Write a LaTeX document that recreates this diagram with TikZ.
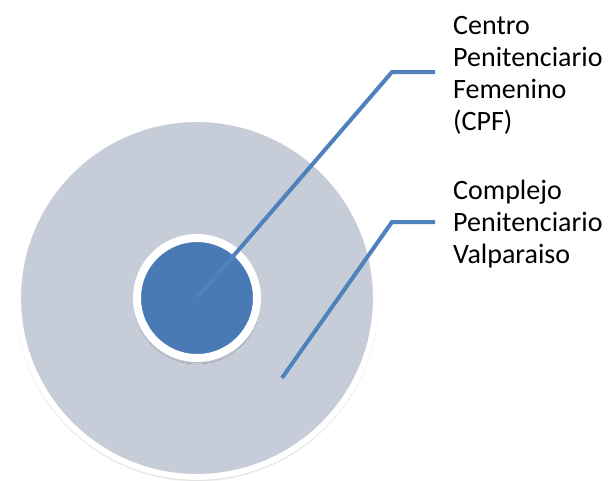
\documentclass[tikz,border=0pt]{standalone}
\usepackage{fontspec}
\setmainfont{Carlito}
\usetikzlibrary{shadows.blur}
\definecolor{ringgray}{HTML}{C6CDD8}
\definecolor{coreblue}{HTML}{4A7AB5}
\definecolor{leadblue}{HTML}{4F81BD}
\tikzset{
  outerdisk/.style={circle, inner sep=0pt, fill=ringgray, draw=white, line width=6pt, minimum size=358pt,
    blur shadow={shadow xshift=0pt, shadow yshift=-1.5pt, shadow scale=1.005, shadow blur radius=2.5pt, shadow opacity=45, shadow blur steps=6}},
  innerdisk/.style={circle, inner sep=0pt, fill=coreblue, draw=white, line width=8pt, minimum size=120pt,
    blur shadow={shadow xshift=0pt, shadow yshift=-3pt, shadow blur radius=3pt, shadow opacity=40, shadow blur steps=6}},
  leader/.style={draw=leadblue, line width=4pt, line cap=butt, line join=miter},
  lbl/.style={anchor=base west, inner sep=0pt, align=left, font=\fontsize{28}{32}\selectfont}
}
\begin{document}
\begin{tikzpicture}[x=1pt,y=-1pt]
\useasboundingbox (0,0) rectangle (613,480);
\node[outerdisk] (outer) at (197,298) {};
\node[innerdisk] (inner) at (197,298) {};
\coordinate (tipA) at (198,297);
\coordinate (kneeA) at (392,72);
\coordinate (endA) at (435,72);
\coordinate (tipB) at (282,378);
\coordinate (kneeB) at (392,222);
\coordinate (endB) at (435,222);
\node[lbl] (labA) at (453,130) {Centro\\Penitenciario\\Femenino\\(CPF)};
\node[lbl] (labB) at (453,263) {Complejo\\Penitenciario\\Valparaiso};
\draw[leader] (tipA) -- (kneeA) -- (endA);
\draw[leader] (tipB) -- (kneeB) -- (endB);
\end{tikzpicture}
\end{document}
